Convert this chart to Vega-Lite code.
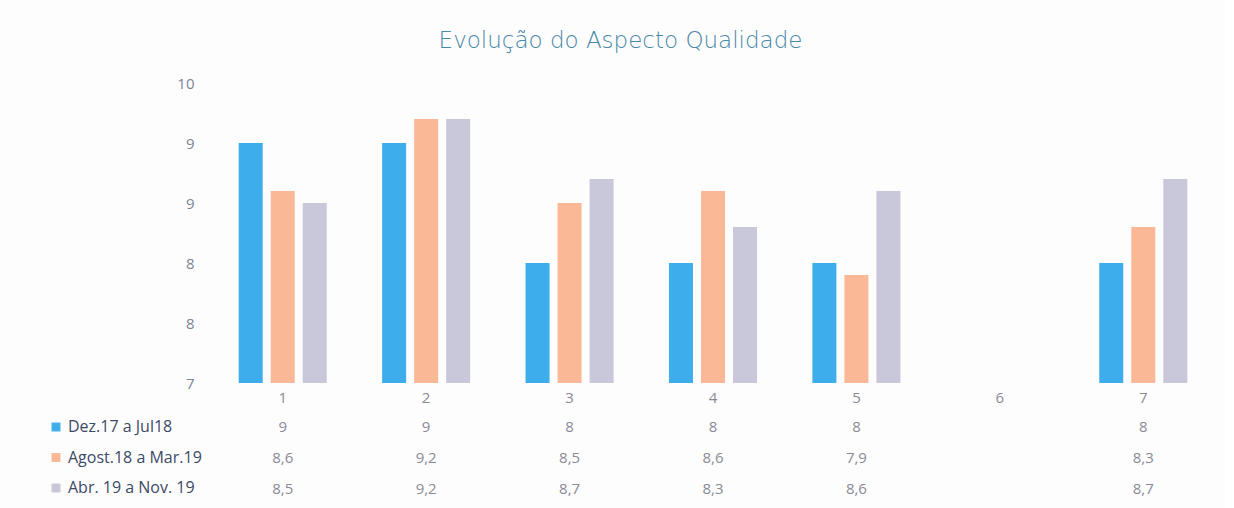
{
  "$schema": "https://vega.github.io/schema/vega-lite/v6.json",
  "background": "#fdfdfe",
  "padding": {"left": 48, "top": 30, "right": 10, "bottom": 5},
  "title": {"text": "Evolução do Aspecto Qualidade", "fontSize": 23, "font": "DejaVu Sans", "fontWeight": 200, "color": "#4a88a8", "anchor": "middle", "offset": 23, "dx": -11},
  "data": {"values": [
    {"cat": "1", "serie": "Dez.17 a Jul18", "valor": 9},
    {"cat": "1", "serie": "Agost.18 a Mar.19", "valor": 8.6},
    {"cat": "1", "serie": "Abr. 19 a Nov. 19", "valor": 8.5},
    {"cat": "2", "serie": "Dez.17 a Jul18", "valor": 9},
    {"cat": "2", "serie": "Agost.18 a Mar.19", "valor": 9.2},
    {"cat": "2", "serie": "Abr. 19 a Nov. 19", "valor": 9.2},
    {"cat": "3", "serie": "Dez.17 a Jul18", "valor": 8},
    {"cat": "3", "serie": "Agost.18 a Mar.19", "valor": 8.5},
    {"cat": "3", "serie": "Abr. 19 a Nov. 19", "valor": 8.7},
    {"cat": "4", "serie": "Dez.17 a Jul18", "valor": 8},
    {"cat": "4", "serie": "Agost.18 a Mar.19", "valor": 8.6},
    {"cat": "4", "serie": "Abr. 19 a Nov. 19", "valor": 8.3},
    {"cat": "5", "serie": "Dez.17 a Jul18", "valor": 8},
    {"cat": "5", "serie": "Agost.18 a Mar.19", "valor": 7.9},
    {"cat": "5", "serie": "Abr. 19 a Nov. 19", "valor": 8.6},
    {"cat": "7", "serie": "Dez.17 a Jul18", "valor": 8},
    {"cat": "7", "serie": "Agost.18 a Mar.19", "valor": 8.3},
    {"cat": "7", "serie": "Abr. 19 a Nov. 19", "valor": 8.7}
  ]},
  "vconcat": [
    {
      "width": 1004,
      "height": 300,
      "mark": {"type": "bar", "clip": true},
      "encoding": {
        "x": {"field": "cat", "type": "nominal", "sort": null,
          "scale": {"domain": ["1","2","3","4","5","6","7"], "paddingInner": 0.386, "paddingOuter": 0.193},
          "axis": {"title": null, "labelAngle": 0, "domain": false, "ticks": false, "labelColor": "#8a8a96", "labelFontSize": 15, "labelFont": "Open Sans", "labelPadding": 7}},
        "xOffset": {"field": "serie", "type": "nominal", "sort": ["Dez.17 a Jul18", "Agost.18 a Mar.19", "Abr. 19 a Nov. 19"],
          "scale": {"paddingInner": 0.25, "paddingOuter": 0}},
        "y": {"field": "valor", "type": "quantitative",
          "scale": {"domain": [7, 9.5], "nice": false, "zero": false},
          "axis": {"title": null, "values": [7, 7.5, 8, 8.5, 9, 9.5], "format": ".0f", "domain": false, "ticks": false, "grid": false, "labelColor": "#7a8595", "labelFontSize": 15, "labelFont": "Open Sans", "labelPadding": 17}},
        "color": {"field": "serie", "type": "nominal", "sort": ["Dez.17 a Jul18", "Agost.18 a Mar.19", "Abr. 19 a Nov. 19"],
          "scale": {"domain": ["Dez.17 a Jul18", "Agost.18 a Mar.19", "Abr. 19 a Nov. 19"], "range": ["#3daeeb", "#fbb896", "#c9c7da"]},
          "legend": {"orient": "none", "legendX": -163, "legendY": 336, "title": null, "symbolType": "square", "symbolSize": 80, "symbolOpacity": 1, "labelFontSize": 16, "labelFont": "Open Sans", "labelColor": "#3c4a64", "rowPadding": 14.5, "labelOffset": 4}}
      }
    },
    {
      "width": 1004,
      "height": 92,
      "mark": {"type": "text", "fontSize": 15, "font": "Open Sans", "color": "#8a8a96", "baseline": "middle"},
      "encoding": {
        "x": {"field": "cat", "type": "nominal", "sort": null,
          "scale": {"domain": ["1","2","3","4","5","6","7"], "paddingInner": 0.386, "paddingOuter": 0.193},
          "axis": null},
        "y": {"field": "serie", "type": "nominal", "sort": ["Dez.17 a Jul18", "Agost.18 a Mar.19", "Abr. 19 a Nov. 19"],
          "scale": {"domain": ["Dez.17 a Jul18", "Agost.18 a Mar.19", "Abr. 19 a Nov. 19"], "paddingInner": 0, "paddingOuter": 0},
          "axis": null},
        "text": {"field": "valor", "type": "quantitative", "format": ".1~f"}
      }
    }
  ],
  "spacing": 7,
  "config": {
    "view": {"stroke": null},
    "locale": {"number": {"decimal": ",", "thousands": ".", "grouping": [3], "currency": ["", " €"]}}
  }
}
